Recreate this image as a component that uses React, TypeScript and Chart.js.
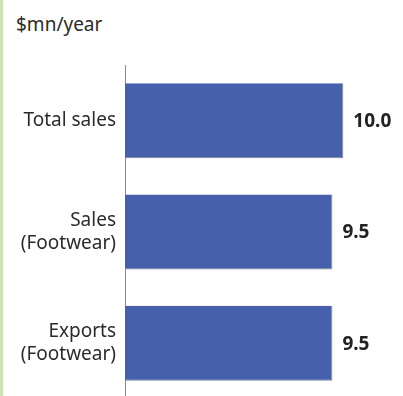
import React, { useEffect, useRef } from "react";
import { Chart, registerables } from "chart.js";

Chart.register(...registerables);

const categories: (string | string[])[] = ["Total sales", ["Sales", "(Footwear)"], ["Exports", "(Footwear)"]];
const values: number[] = [10.0, 9.5, 9.5];
const valueLabels: string[] = ["10.0", "9.5", "9.5"];
const unitLabel = "$mn/year";

const FONT = "'Noto Sans', 'Open Sans', sans-serif";

const valueLabelPlugin = {
  id: "valueLabels",
  afterDatasetsDraw(chart: any) {
    const ctx = chart.ctx;
    const meta = chart.getDatasetMeta(0);
    ctx.save();
    ctx.font = `bold 19px ${FONT}`;
    ctx.fillStyle = "#222";
    ctx.textAlign = "left";
    ctx.textBaseline = "middle";
    meta.data.forEach((bar: any, i: number) => {
      ctx.fillText(valueLabels[i], bar.x + 10, bar.y + 1);
    });
    ctx.restore();
  },
};

export default function App() {
  const ref = useRef<HTMLCanvasElement | null>(null);
  useEffect(() => {
    if (!ref.current) return;
    const chart = new Chart(ref.current, {
      type: "bar",
      data: {
        labels: categories,
        datasets: [
          {
            data: values,
            backgroundColor: "#4660AB",
            borderColor: "#7d8594",
            borderWidth: { top: 0, left: 0, right: 1, bottom: 1 },
            borderSkipped: false,
            categoryPercentage: 1,
            barPercentage: 0.674,
          },
        ],
      },
      options: {
        indexAxis: "y",
        responsive: false,
        animation: false,
        layout: { padding: { top: 65, right: 16, bottom: 0, left: 0 } },
        plugins: {
          legend: { display: false },
          tooltip: { enabled: false },
          title: { display: false },
        },
        scales: {
          x: { display: false, min: 0, max: 12 },
          y: {
            grid: { display: false, drawTicks: false },
            border: { display: true, color: "#8a8a8a", width: 1 },
            ticks: {
              padding: 9,
              color: "#2b2b2b",
              font: { family: FONT, size: 19, lineHeight: 1.2 },
            },
            afterFit(scale: any) {
              scale.width = 125;
              scale.paddingTop = 0;
              scale.paddingBottom = 0;
            },
          },
        },
      },
      plugins: [valueLabelPlugin],
    });
    return () => chart.destroy();
  }, []);

  return (
    <div
      style={{
        position: "absolute",
        left: 0,
        top: 0,
        width: 403,
        height: 396,
        overflow: "hidden",
        background: "#fff",
      }}
    >
      <div
        style={{
          position: "absolute",
          left: 0,
          top: 0,
          width: 3,
          height: 396,
          background: "#c9e3b3",
        }}
      />
      <div
        style={{
          position: "absolute",
          left: 16,
          top: 11,
          fontFamily: FONT,
          fontSize: 19,
          lineHeight: "26px",
          color: "#2b2b2b",
        }}
      >
        {unitLabel}
      </div>
      <canvas
        ref={ref}
        width={403}
        height={399}
        style={{ position: "absolute", left: 0, top: 0, width: 403, height: 399, display: "block" }}
      />
    </div>
  );
}
